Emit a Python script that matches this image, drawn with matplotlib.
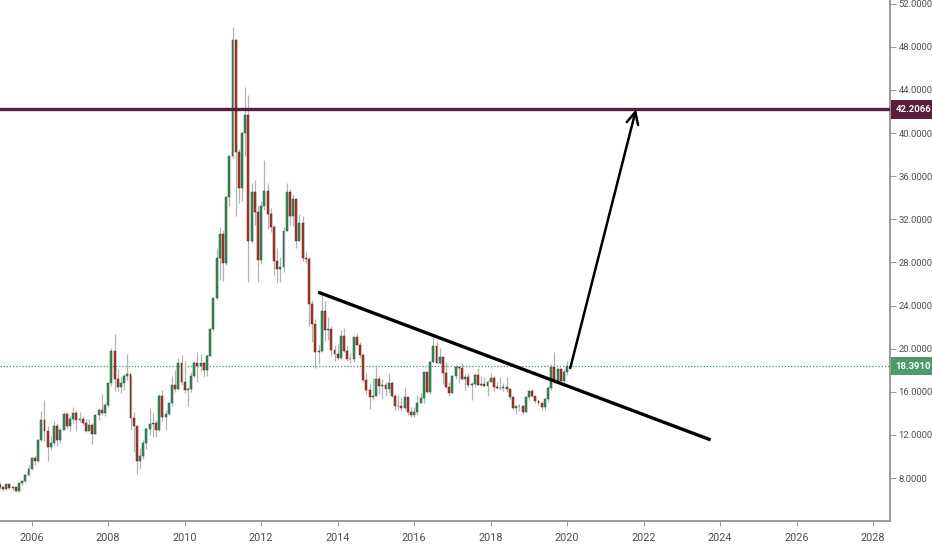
import matplotlib
matplotlib.use("Agg")
import matplotlib.pyplot as plt
from matplotlib.transforms import blended_transform_factory
import numpy as np

# ---- data: monthly silver candles, Jan 2005 .. Jan 2020 ----
start_year = 2005
first_open = 6.83
closes = [
    6.77, 7.38, 7.15, 6.94, 7.45, 7.04, 7.18, 6.80, 7.53, 7.77, 8.27, 8.83,        # 2005
    9.87, 9.60, 11.52, 13.42, 12.40, 10.87, 11.27, 12.79, 11.52, 12.47, 13.92, 12.86,  # 2006
    13.43, 14.07, 13.34, 13.45, 13.15, 12.37, 12.94, 12.11, 13.81, 14.28, 14.05, 14.79,  # 2007
    16.82, 19.81, 17.23, 16.44, 16.84, 17.47, 17.62, 13.53, 12.84, 9.61, 10.07, 11.29,  # 2008
    12.54, 13.03, 13.12, 12.49, 15.57, 13.62, 13.92, 14.92, 16.61, 16.23, 18.64, 16.94,  # 2009
    16.21, 16.28, 17.50, 18.69, 18.43, 18.67, 18.02, 19.33, 21.80, 24.69, 28.41, 30.62,  # 2010
    27.98, 34.03, 37.87, 48.60, 38.27, 34.88, 40.00, 41.70, 29.97, 34.50, 32.68, 28.18,  # 2011
    33.26, 34.61, 32.45, 31.26, 28.17, 27.39, 27.58, 30.92, 34.57, 32.27, 33.91, 29.95,  # 2012
    31.69, 28.40, 28.35, 24.16, 22.25, 19.70, 19.75, 23.45, 21.72, 21.82, 19.91, 19.48,  # 2013
    19.17, 21.19, 19.75, 19.03, 19.04, 21.05, 20.38, 19.44, 17.07, 16.19, 15.50, 15.61,  # 2014
    17.18, 16.56, 16.61, 16.27, 16.81, 15.58, 14.71, 14.66, 14.53, 15.52, 14.11, 13.82,  # 2015
    14.10, 14.96, 15.45, 17.86, 15.97, 18.74, 20.28, 18.70, 19.20, 17.77, 16.49, 15.93,  # 2016
    17.50, 18.32, 18.22, 17.22, 17.40, 16.60, 16.73, 17.60, 16.67, 16.72, 16.58, 16.95,  # 2017
    17.28, 16.48, 16.31, 16.36, 16.43, 16.29, 15.48, 14.53, 14.66, 14.68, 14.12, 15.50,  # 2018
    16.04, 15.59, 15.12, 14.93, 14.61, 15.29, 16.35, 18.34, 16.99, 18.11, 16.96, 17.85,  # 2019
    18.39,                                                                               # 2020
]
highs = [
    7.00, 7.45, 7.59, 7.28, 7.48, 7.52, 7.30, 7.20, 7.57, 7.85, 8.35, 9.23,
    9.98, 10.08, 11.60, 14.18, 15.20, 12.85, 11.88, 13.30, 13.08, 12.61, 14.10, 14.10,
    13.77, 14.55, 14.35, 14.12, 13.75, 13.48, 13.48, 13.15, 13.91, 14.53, 15.82, 14.95,
    16.89, 20.08, 21.38, 18.07, 17.40, 17.65, 19.48, 17.56, 14.14, 12.68, 10.83, 11.57,
    12.76, 14.52, 14.00, 13.42, 15.82, 16.20, 14.30, 15.00, 17.44, 17.99, 19.18, 19.44,
    18.86, 16.48, 17.83, 18.90, 19.70, 19.54, 18.73, 19.54, 21.95, 24.80, 29.35, 31.28,
    30.98, 34.14, 37.98, 49.80, 48.70, 38.48, 40.10, 44.27, 43.55, 35.35, 35.69, 33.24,
    33.70, 37.48, 35.35, 33.03, 31.50, 29.32, 28.50, 31.30, 35.38, 34.82, 34.38, 34.00,
    32.45, 32.30, 29.05, 28.48, 24.55, 22.75, 20.35, 25.08, 24.46, 22.90, 22.06, 20.30,
    20.45, 21.70, 21.90, 20.29, 19.56, 21.08, 21.49, 20.66, 19.58, 17.72, 16.72, 17.25,
    18.48, 17.44, 17.20, 16.89, 17.77, 16.98, 15.78, 15.67, 15.39, 16.40, 15.53, 14.55,
    14.55, 15.67, 15.93, 17.93, 17.85, 18.87, 21.14, 20.72, 20.02, 19.20, 18.77, 16.95,
    17.55, 18.51, 18.34, 18.65, 17.68, 17.70, 16.89, 17.70, 18.21, 17.47, 17.35, 17.10,
    17.70, 17.50, 16.95, 17.35, 16.83, 17.34, 16.21, 15.64, 14.72, 14.90, 14.73, 15.58,
    16.20, 16.22, 15.65, 15.24, 14.97, 15.44, 16.58, 18.61, 19.65, 18.25, 18.18, 18.08,
    18.90,
]
lows = [
    6.37, 6.70, 6.98, 6.83, 6.90, 6.98, 6.85, 6.70, 6.74, 7.32, 7.67, 8.22,
    8.80, 9.21, 9.47, 11.45, 11.46, 9.60, 10.58, 11.10, 10.98, 11.24, 12.55, 12.60,
    12.38, 13.15, 12.40, 13.20, 12.90, 12.25, 12.54, 11.20, 12.08, 13.35, 13.82, 13.75,
    14.62, 16.50, 16.10, 16.10, 15.91, 16.18, 17.10, 12.48, 10.41, 8.40, 8.81, 9.81,
    10.66, 12.02, 11.80, 11.80, 12.34, 13.32, 12.44, 13.80, 14.72, 16.00, 16.17, 16.66,
    15.92, 14.70, 15.98, 17.40, 16.95, 17.90, 17.33, 17.48, 19.32, 21.66, 24.47, 26.36,
    26.28, 27.76, 33.19, 37.70, 32.34, 33.55, 33.66, 37.86, 26.14, 29.84, 31.50, 26.16,
    27.85, 32.90, 31.09, 30.81, 26.79, 26.10, 26.18, 27.15, 30.92, 31.48, 31.42, 29.32,
    29.95, 28.11, 27.99, 22.07, 20.66, 18.20, 18.56, 19.68, 20.70, 20.85, 19.34, 18.82,
    18.97, 19.05, 19.66, 18.86, 18.70, 18.73, 20.34, 19.13, 16.92, 15.75, 14.42, 15.24,
    15.58, 15.78, 15.29, 15.62, 15.86, 15.54, 14.34, 14.30, 14.20, 14.40, 13.89, 13.63,
    13.64, 13.86, 14.97, 15.00, 15.85, 15.84, 18.69, 18.59, 18.57, 16.75, 16.38, 15.63,
    15.89, 17.16, 16.83, 17.06, 16.18, 16.40, 15.20, 16.45, 16.62, 16.50, 16.55, 15.63,
    16.95, 16.11, 16.22, 16.12, 16.08, 15.96, 15.31, 14.34, 13.96, 14.24, 13.92, 14.08,
    15.20, 15.50, 14.97, 14.79, 14.27, 14.32, 15.06, 16.20, 16.80, 16.99, 16.82, 16.55,
    17.55,
]
opens = [first_open] + closes[:-1]   # monthly open = previous month's close

year_ticks = list(range(2006, 2030, 2))
price_ticks = [8, 12, 16, 20, 24, 28, 32, 36, 40, 44, 48, 52]

resistance = 42.2066
last_price = 18.391
trend_x = [2013.49, 2023.75]
trend_y = [25.24, 11.54]
arrow_from = (2020.08, 18.2)
arrow_to = (2021.80, 42.2)

# ---- figure ----
W, H = 932, 550
fig = plt.figure(figsize=(W / 100, H / 100), dpi=100)
fig.patch.set_facecolor("white")
ax = fig.add_axes([0, 29 / H, 890 / W, 521 / H])
ax.set_facecolor("white")

fam = ["Roboto", "DejaVu Sans"]
txt_col = "#4f4f4f"
axis_col = "#9a9a9a"

n = len(closes)
t = np.array([start_year + i / 12.0 for i in range(n)])
o = np.array(opens); c = np.array(closes); h = np.array(highs); l = np.array(lows)
up = c >= o

# wicks
ax.vlines(t, l, h, color="#b3b3b3", linewidth=0.9, zorder=2)
# bodies
bw = 0.05
green_fc, green_ec = "#3d8a5c", "#24553a"
red_fc, red_ec = "#a33a2c", "#6a2218"
ax.bar(t[up], (c - o)[up], bottom=o[up], width=bw, color=green_fc,
       edgecolor=green_ec, linewidth=0.35, zorder=3)
ax.bar(t[~up], (c - o)[~up], bottom=o[~up], width=bw, color=red_fc,
       edgecolor=red_ec, linewidth=0.35, zorder=3)

# horizontal resistance line
ax.axhline(resistance, color="#5a1e3c", linewidth=2.4, zorder=4)
# last price dotted line
ax.axhline(last_price, color="#3d8f5e", linewidth=0.9, linestyle=(0, (1, 1.5)), zorder=1)

# trendline
ax.plot(trend_x, trend_y, color="black", linewidth=2.4, solid_capstyle="butt", zorder=5)
# arrow
ax.annotate("", xy=arrow_to, xytext=arrow_from,
            arrowprops=dict(arrowstyle="->,head_length=0.85,head_width=0.42",
                            color="black", linewidth=1.8, shrinkA=0, shrinkB=0),
            zorder=6)

ax.set_xlim(2005.171, 2028.44)
ax.set_ylim(4.013, 52.345)

for s in ["top", "left"]:
    ax.spines[s].set_visible(False)
ax.spines["bottom"].set_color(axis_col)
ax.spines["right"].set_color(axis_col)
ax.spines["bottom"].set_linewidth(1.4)
ax.spines["right"].set_linewidth(1.4)

ax.yaxis.tick_right()
ax.set_yticks(price_ticks)
ax.set_yticklabels([f"{v:.4f}" for v in price_ticks])
ax.set_xticks(year_ticks)
ax.set_xticklabels([str(y) for y in year_ticks])
ax.tick_params(axis="y", length=4, width=0.8, color=axis_col, pad=2,
               labelsize=6.8, labelcolor=txt_col)
ax.tick_params(axis="x", length=3.5, width=0.8, color=axis_col, pad=5,
               labelsize=7.8, labelcolor=txt_col)
for lab in ax.get_xticklabels() + ax.get_yticklabels():
    lab.set_family(fam)

# price labels on the scale
tr = blended_transform_factory(ax.transAxes, ax.transData)
ax.text(1.006, resistance, f"{resistance:.4f}", transform=tr, ha="left", va="center",
        color="white", fontsize=6.8, fontweight="bold", family=fam, clip_on=False,
        bbox=dict(boxstyle="square,pad=0.5", fc="#5a1e3c", ec="none"), zorder=10)
ax.text(1.006, last_price, f"{last_price:.4f}", transform=tr, ha="left", va="center",
        color="white", fontsize=6.8, fontweight="bold", family=fam, clip_on=False,
        bbox=dict(boxstyle="square,pad=0.5", fc="#4f9a6c", ec="none"), zorder=10)

fig.savefig("out.png", dpi=100, facecolor="white")
